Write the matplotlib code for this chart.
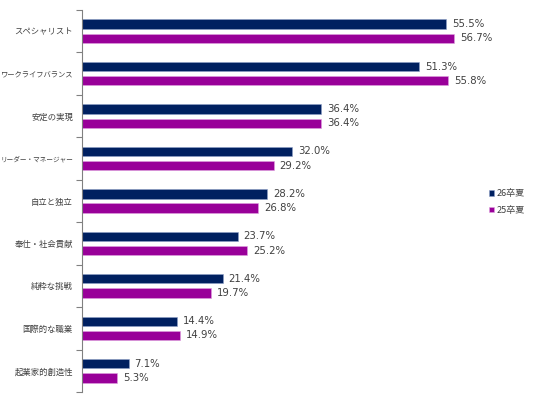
import matplotlib
matplotlib.use("Agg")
import matplotlib.pyplot as plt
import numpy as np

plt.rcParams['font.family'] = ['Noto Sans CJK JP', 'DejaVu Sans']

categories = ["スペシャリスト", "ワークライフバランス", "安定の実現", "リーダー・マネージャー",
              "自立と独立", "奉仕・社会貢献", "純粋な挑戦", "国際的な職業", "起業家的創造性"]
s26 = [55.5, 51.3, 36.4, 32.0, 28.2, 23.7, 21.4, 14.4, 7.1]
s25 = [56.7, 55.8, 36.4, 29.2, 26.8, 25.2, 19.7, 14.9, 5.3]
series_names = ["26卒夏", "25卒夏"]

navy = "#002060"
purple = "#990099"
txt = "#404040"

fig = plt.figure(figsize=(5.36, 3.99), dpi=100)
ax = fig.add_axes([82/536, 1-392/399, (476-82)/536, (392-10)/399])

y = np.arange(len(categories))
h = 0.22
off = 0.167
b1 = ax.barh(y - off, s26, height=h, color=navy, edgecolor="#8fa0c8", linewidth=0.4, label=series_names[0])
b2 = ax.barh(y + off, s25, height=h, color=purple, edgecolor="#e0a0e0", linewidth=0.4, label=series_names[1])

for bars, vals in ((b1, s26), (b2, s25)):
    for rect, v in zip(bars, vals):
        ax.text(v + 0.9, rect.get_y() + rect.get_height()/2, f"{v:.1f}%",
                va="center", ha="left", fontsize=7.3, color=txt, family=['DejaVu Sans'])

ax.set_xlim(0, 60)
ax.set_ylim(len(categories) - 0.5, -0.5)
ax.set_yticks(y)
labels = ax.set_yticklabels(categories, color=txt)
avail_px = 73
for lab, name in zip(labels, categories):
    size = min(6.0, avail_px * 0.72 / len(name))
    lab.set_fontsize(size)
ax.tick_params(axis='y', which='major', length=0, pad=6.5)
ax.set_yticks(np.arange(-0.5, len(categories), 1), minor=True)
ax.tick_params(axis='y', which='minor', length=4, color="#808080", width=0.8)
ax.set_xticks([])
for s in ("top", "right", "bottom"):
    ax.spines[s].set_visible(False)
ax.spines["left"].set_color("#808080")
ax.spines["left"].set_linewidth(0.8)

leg = fig.legend(handles=[b1, b2], labels=series_names, loc="upper left",
                 bbox_to_anchor=(489/536, 1-189/399), frameon=False, fontsize=6.5,
                 handlelength=0.55, handleheight=0.55, handletextpad=0.3, labelspacing=0.85,
                 borderaxespad=0, borderpad=0)
for t in leg.get_texts():
    t.set_color(txt)

fig.savefig("out.png", dpi=100)
